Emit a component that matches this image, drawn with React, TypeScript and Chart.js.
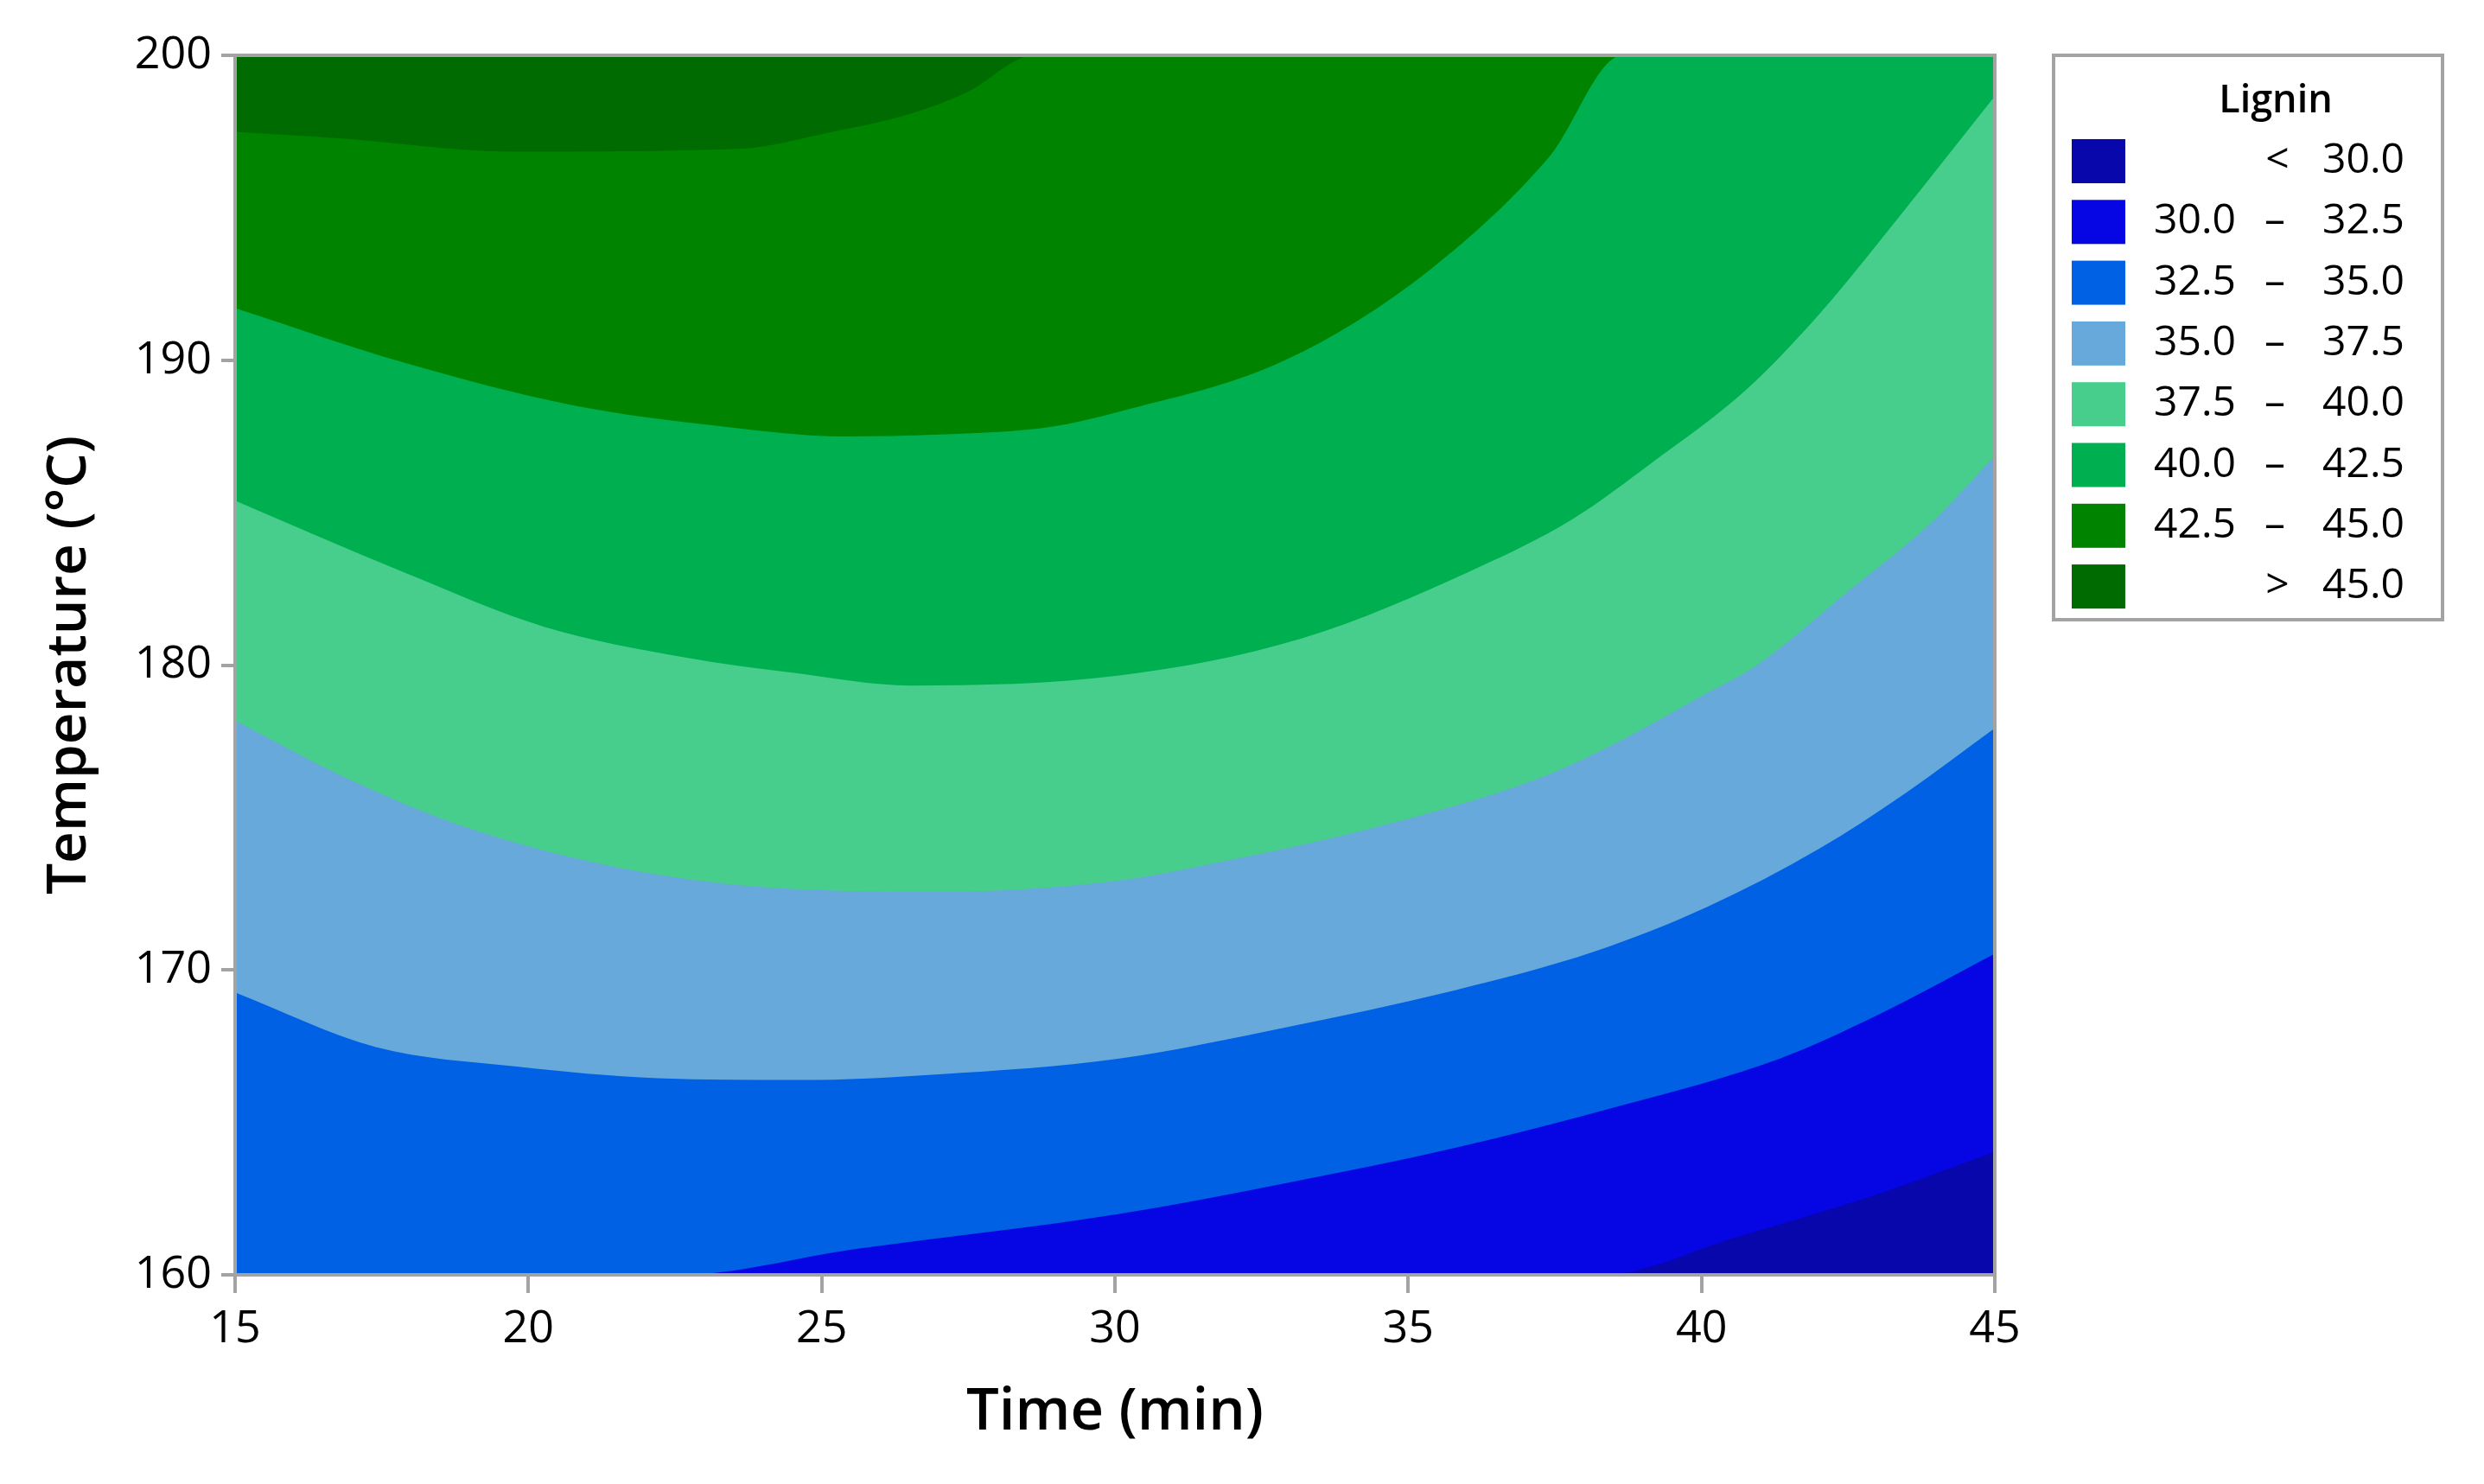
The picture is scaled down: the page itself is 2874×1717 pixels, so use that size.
import React, { useEffect, useRef } from 'react';
import { Chart, registerables } from 'chart.js';

Chart.register(...registerables);

// ---- Axes ----
const xTicks = [15, 20, 25, 30, 35, 40, 45];
const yTicks = [160, 170, 180, 190, 200];
const xTitle = 'Time (min)';
const yTitle = 'Temperature (°C)';
const legendTitle = 'Lignin';

// ---- Legend / bands (low -> high) ----
const legendLeft = ['', '30.0', '32.5', '35.0', '37.5', '40.0', '42.5', ''];
const legendSep = ['<', '–', '–', '–', '–', '–', '–', '>'];
const legendRight = ['30.0', '32.5', '35.0', '37.5', '40.0', '42.5', '45.0', '45.0'];
const bandColors = ['#0707AC', '#0606E4', '#0061E5', '#67A9DA', '#48CE8C', '#00B050', '#008400', '#006B00'];

// ---- Contour boundaries: [time, temperature] ----
const boundaryFloor: [number, number][] = [[15, 160], [45, 160]];
const boundary30: [number, number][] = [
  [15, 160], [38.3, 160], [40.57, 161.22], [42.97, 162.62], [45, 164.03],
];
const boundary32_5: [number, number][] = [
  [15, 160], [22.58, 160], [25.56, 160.84], [30.05, 161.99], [32.89, 163.0],
  [35.77, 164.15], [38.65, 165.56], [41.33, 167.09], [42.97, 168.49], [45, 170.53],
];
const boundary35: [number, number][] = [
  [15, 169.26], [17.4, 167.47], [19.8, 166.83], [22.2, 166.45], [24.6, 166.39],
  [27.0, 166.58], [30.05, 167.09], [32.89, 168.11], [35.77, 169.32], [38.17, 170.6],
  [40.09, 172.06], [42.01, 173.98], [43.45, 175.76], [45, 177.93],
];
const boundary37_5: [number, number][] = [
  [15, 178.18], [16.92, 176.27], [18.84, 174.74], [21.24, 173.47], [23.64, 172.77],
  [27.0, 172.57], [30.05, 172.93], [31.93, 173.59], [34.33, 174.62], [37.21, 176.27],
  [38.65, 177.55], [40.09, 179.08], [40.95, 180.0], [42.49, 182.4], [43.93, 184.69], [45, 186.86],
];
const boundary40: [number, number][] = [
  [15, 185.39], [17.88, 183.04], [20.28, 181.25], [22.68, 180.25], [24.5, 179.75],
  [26.52, 179.33], [30.05, 179.65], [33.18, 180.87], [36.15, 183.16], [37.78, 184.76],
  [39.22, 186.73], [40.76, 189.03], [42.01, 191.52], [43.45, 194.9], [45, 198.66],
];
const boundary42_5: [number, number][] = [
  [15, 191.71], [17.88, 189.92], [20.76, 188.52], [23.35, 187.82], [25.37, 187.5],
  [27.0, 187.56], [28.92, 187.82], [30.05, 188.3], [32.89, 189.99], [35.38, 192.98],
  [37.41, 196.68], [38.65, 200], [45, 200],
];
const boundary45: [number, number][] = [
  [15, 197.49], [16.92, 197.26], [19.7, 196.84], [23.64, 196.94], [25.08, 197.45],
  [26.52, 198.09], [27.48, 198.79], [28.63, 200], [45, 200],
];

const boundaries = [
  boundaryFloor, boundary30, boundary32_5, boundary35,
  boundary37_5, boundary40, boundary42_5, boundary45,
];

const FONT = '"Open Sans", "Noto Sans", "DejaVu Sans", sans-serif';
const FRAME = '#A3A3A3';

const framePlugin = {
  id: 'frameBox',
  afterDatasetsDraw(chart: any) {
    const { ctx, chartArea: a } = chart;
    ctx.save();
    ctx.strokeStyle = FRAME;
    ctx.lineWidth = 4;
    ctx.strokeRect(a.left, a.top, a.right - a.left, a.bottom - a.top);
    ctx.restore();
  },
};

const legendPlugin = {
  id: 'contourLegend',
  afterDraw(chart: any) {
    const { ctx, chartArea: a } = chart;
    const boxL = a.right + 68;
    const boxT = a.top;
    const boxW = 450;
    const boxH = 653;
    ctx.save();
    ctx.strokeStyle = FRAME;
    ctx.lineWidth = 4;
    ctx.strokeRect(boxL, boxT, boxW, boxH);

    ctx.fillStyle = '#000';
    ctx.textBaseline = 'middle';
    ctx.textAlign = 'center';
    ctx.font = `600 45px ${FONT}`;
    ctx.fillText(legendTitle, boxL + 257, boxT + 53);

    ctx.font = `48px ${FONT}`;
    const pitch = 70.3;
    for (let i = 0; i < legendRight.length; i++) {
      const top = boxT + 97 + i * pitch;
      ctx.fillStyle = bandColors[i];
      ctx.fillRect(boxL + 21, top, 62, 51);
      const cy = top + 25.5;
      ctx.fillStyle = '#000';
      ctx.textAlign = 'right';
      if (legendLeft[i]) ctx.fillText(legendLeft[i], boxL + 211, cy);
      ctx.fillText(legendRight[i], boxL + 406, cy);
      ctx.textAlign = 'center';
      const sepX = legendSep[i] === '–' ? boxL + 256 : boxL + 259;
      ctx.fillText(legendSep[i], sepX, cy);
    }
    ctx.restore();
  },
};

export default function App() {
  const ref = useRef<HTMLCanvasElement | null>(null);

  useEffect(() => {
    if (!ref.current) return;
    const datasets = boundaries.map((b, i) => ({
      label: i === 0 ? legendSep[0] + ' ' + legendRight[0] : legendLeft[i] + ' – ' + legendRight[i],
      data: b.map(([x, y]) => ({ x, y })),
      backgroundColor: bandColors[i],
      borderColor: 'rgba(0,0,0,0)',
      borderWidth: 0,
      pointRadius: 0,
      pointHoverRadius: 0,
      fill: 'end',
      cubicInterpolationMode: 'monotone',
      order: boundaries.length - i,
    }));

    const chart = new Chart(ref.current, {
      type: 'line',
      data: { datasets: datasets as any },
      plugins: [framePlugin, legendPlugin],
      options: {
        responsive: false,
        animation: false,
        devicePixelRatio: 1,
        layout: { padding: { top: 64, right: 566, left: 0, bottom: 0 } },
        plugins: {
          legend: { display: false },
          tooltip: { enabled: false },
          filler: { propagate: false },
        },
        scales: {
          x: {
            type: 'linear',
            min: 15,
            max: 45,
            afterBuildTicks: (s: any) => { s.ticks = xTicks.map((v) => ({ value: v })); },
            afterFit: (s: any) => { s.height = 242; s.paddingLeft = 0; s.paddingRight = 0; },
            ticks: {
              color: '#000',
              padding: 11,
              maxRotation: 0,
              autoSkip: false,
              font: { family: FONT, size: 52, lineHeight: 1.2 },
            },
            grid: {
              display: true,
              drawOnChartArea: false,
              drawTicks: true,
              tickLength: 21,
              tickColor: FRAME,
              tickWidth: 4,
              lineWidth: 4,
              color: FRAME,
            },
            border: { display: false },
            title: {
              display: true,
              text: xTitle,
              color: '#000',
              font: { family: FONT, size: 67, weight: '600', lineHeight: 1 },
              padding: { top: 0, bottom: 49 },
            },
          },
          y: {
            type: 'linear',
            min: 160,
            max: 200,
            afterBuildTicks: (s: any) => { s.ticks = yTicks.map((v) => ({ value: v })); },
            afterFit: (s: any) => { s.width = 272; s.paddingTop = 0; s.paddingBottom = 0; },
            ticks: {
              color: '#000',
              padding: 11,
              autoSkip: false,
              font: { family: FONT, size: 52, lineHeight: 1.2 },
            },
            grid: {
              display: true,
              drawOnChartArea: false,
              drawTicks: true,
              tickLength: 16,
              tickColor: FRAME,
              tickWidth: 4,
              lineWidth: 4,
              color: FRAME,
            },
            border: { display: false },
            title: {
              display: true,
              text: yTitle,
              color: '#000',
              font: { family: FONT, size: 64, weight: '600', lineHeight: 1 },
              padding: { top: 49, bottom: 0 },
            },
          },
        },
      } as any,
    });
    return () => chart.destroy();
  }, []);

  return (
    <div style={{ position: 'fixed', left: 0, top: 0, width: 2874, height: 1717, background: '#fff' }}>
      <canvas ref={ref} width={2874} height={1717} style={{ width: 2874, height: 1717, display: 'block' }} />
    </div>
  );
}
